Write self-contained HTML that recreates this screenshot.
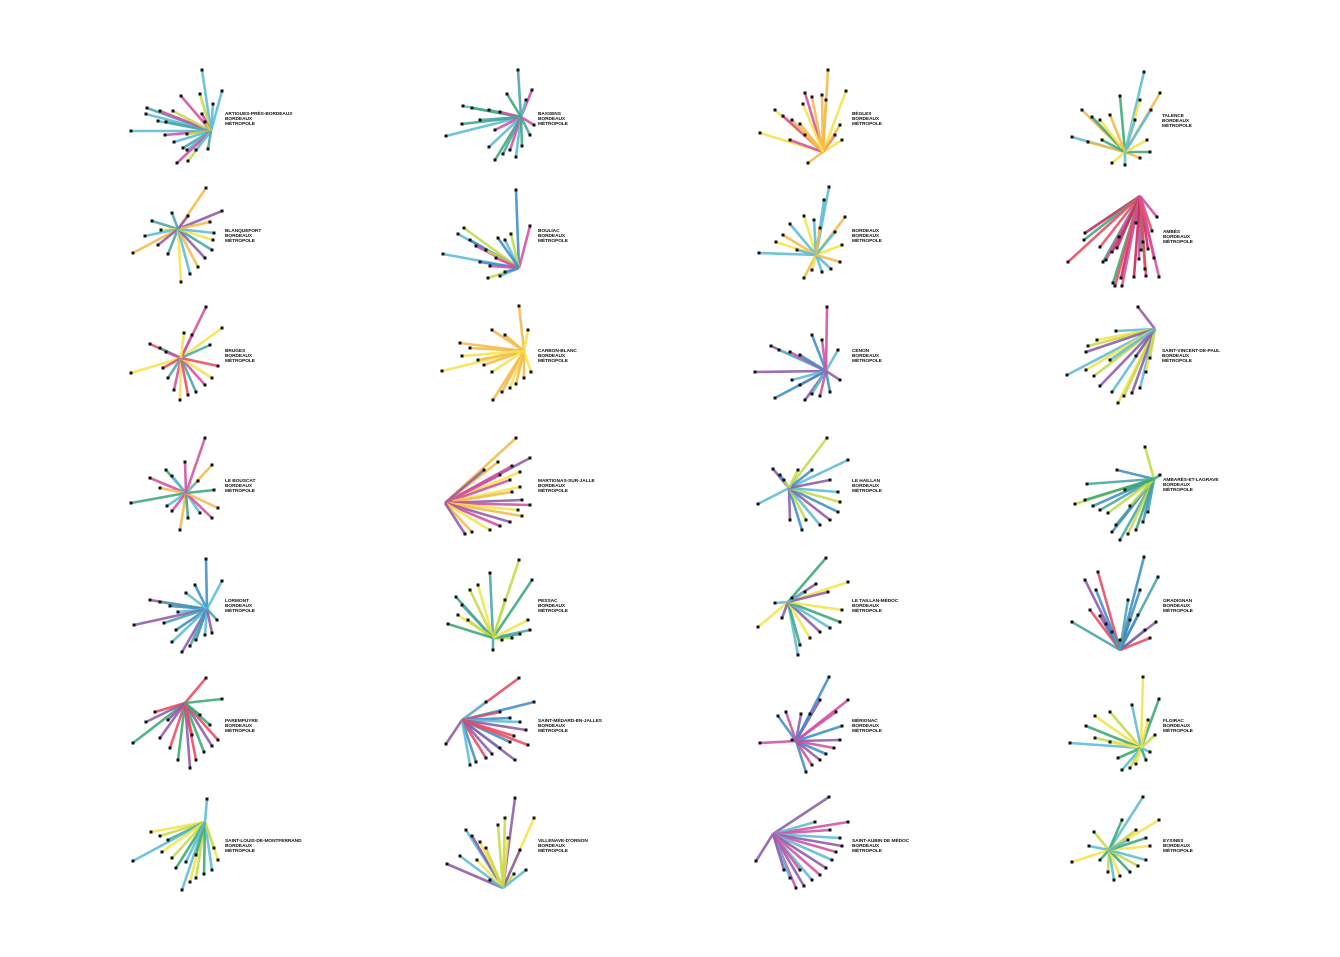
<!DOCTYPE html>
<html><head><meta charset="utf-8"><style>
html,body{margin:0;padding:0;background:#fff}
svg{display:block}
text{font-family:"Liberation Sans",sans-serif;font-size:4.8px;font-weight:bold;fill:#111;letter-spacing:-0.05px}
</style></head><body>
<svg id="c" width="1340" height="957" viewBox="0 0 1340 957"></svg>
<script>
const C={cy:'#5bbcd6',te:'#4aa5a9',ma:'#d44fa3',li:'#c5d94a',or:'#f5b94a',ye:'#f5e34a',re:'#e84a5f',gr:'#3aa876',pu:'#8e5aa8',bl:'#3d8ec9',cr:'#c8265a'};
const names=["ARTIGUES-PRÈS-BORDEAUX","BASSENS","BÈGLES","TALENCE","BLANQUEFORT","BOULIAC","BORDEAUX","AMBÈS","BRUGES","CARBON-BLANC","CENON","SAINT-VINCENT-DE-PAUL","LE BOUSCAT","MARTIGNAS-SUR-JALLE","LE HAILLAN","AMBARÈS-ET-LAGRAVE","LORMONT","PESSAC","LE TAILLAN-MÉDOC","GRADIGNAN","PAREMPUYRE","SAINT-MÉDARD-EN-JALLES","MÉRIGNAC","FLOIRAC","SAINT-LOUIS-DE-MONTFERRAND","VILLENAVE-D'ORNON","SAINT-AUBIN DE MÉDOC","EYSINES"];
const hubs=[[211,131],[521,117],[823,152],[1125,152],[178,229],[519,268],[816,255],[1140,196],[181,358],[524,351],[826,371],[1155,329],[186,493],[445,503],[789,488],[1154,479],[207,609],[493,638],[788,602],[1120,650],[185,703],[462,720],[796,741],[1141,748],[205,822],[503,888],[773,834],[1109,850]];
const labelPos=[[225,113],[538,113],[852,113],[1162,115],[225,230],[538,230],[852,230],[1163,231],[225,350],[538,350],[852,350],[1162,350],[225,480],[538,480],[852,480],[1163,479],[225,600],[538,600],[852,600],[1163,600],[225,720],[538,720],[852,720],[1163,720],[225,840],[538,840],[852,840],[1163,840]];
const palettes=[["cy","ma","li","cy","te"],["te","ma","cy","gr"],["or","ye","ma","or"],["cy","or","gr","ye"],["or","pu","te","ye","cy"],["bl","ma","li","cy"],["cy","or","ye","cy"],["ma","cr","gr","re"],["ma","ye","re","te"],["or","ye","or"],["ma","bl","pu","cy"],["pu","cy","ye","li"],["ma","or","gr","cy"],["or","pu","ma","ye"],["li","cy","pu","bl"],["li","gr","bl","te"],["bl","cy","pu","te"],["li","gr","te","ye"],["gr","ye","pu","cy"],["bl","te","re","pu"],["re","gr","pu"],["re","bl","cy","pu"],["bl","ma","pu"],["ye","gr","cy","li"],["cy","ye","li","gr"],["pu","ye","li","cy"],["pu","ma","cy"],["cy","ye","gr","li"]];
const ends=[
[[202,70],[181,96],[200,94],[222,91],[147,108],[146,114],[160,111],[173,111],[158,121],[166,122],[131,131],[165,135],[187,134],[174,142],[183,148],[187,150],[177,163],[188,161],[196,150],[208,149],[213,104],[202,114],[205,122]],
[[518,70],[532,90],[463,106],[472,108],[489,110],[500,112],[446,136],[462,124],[480,120],[495,130],[489,147],[495,160],[503,154],[510,150],[516,157],[522,146],[530,135],[534,125],[526,100],[507,94]],
[[828,70],[846,91],[805,93],[812,97],[822,95],[775,110],[783,116],[792,120],[800,124],[760,133],[790,140],[805,135],[808,163],[842,140],[835,135],[840,125],[826,100],[803,104]],
[[1144,72],[1160,93],[1120,96],[1140,100],[1151,110],[1082,110],[1092,117],[1100,120],[1072,137],[1088,142],[1102,140],[1112,163],[1125,165],[1140,158],[1150,152],[1147,140],[1135,120],[1110,115]],
[[206,188],[222,211],[152,221],[161,230],[145,236],[133,253],[158,245],[168,254],[181,282],[190,274],[198,267],[205,258],[212,250],[213,240],[214,233],[210,222],[188,216],[172,213]],
[[516,190],[530,226],[464,228],[458,234],[470,240],[476,246],[486,250],[443,254],[480,262],[490,266],[488,278],[500,276],[505,272],[496,258],[511,234],[505,240],[498,238]],
[[829,187],[845,217],[804,216],[814,220],[790,224],[783,235],[776,242],[759,253],[797,250],[804,278],[812,270],[822,272],[831,269],[840,262],[842,245],[835,232],[824,200],[820,228]],
[[1157,217],[1085,233],[1084,240],[1100,247],[1119,237],[1112,252],[1103,262],[1068,262],[1106,260],[1117,248],[1136,223],[1152,231],[1143,242],[1148,249],[1141,250],[1154,258],[1139,259],[1121,278],[1113,283],[1115,286],[1122,286],[1134,277],[1145,269],[1146,276],[1159,277]],
[[206,307],[222,328],[150,344],[160,348],[166,352],[131,373],[163,368],[168,378],[174,390],[180,400],[188,395],[196,392],[205,385],[212,378],[218,366],[210,345],[192,335],[184,333]],
[[519,306],[528,330],[460,343],[470,348],[442,371],[478,360],[484,365],[492,372],[493,400],[502,392],[510,388],[516,384],[524,378],[531,372],[505,335],[492,330],[462,356]],
[[827,307],[812,335],[771,346],[779,350],[790,352],[800,355],[755,372],[792,380],[800,385],[775,398],[805,400],[812,394],[820,396],[830,392],[840,380],[838,350],[822,340]],
[[1138,307],[1116,331],[1097,340],[1088,346],[1086,352],[1067,375],[1086,370],[1094,376],[1100,386],[1112,392],[1118,403],[1124,396],[1132,393],[1140,388],[1146,372],[1150,358],[1136,356],[1110,360]],
[[205,438],[212,465],[166,470],[172,476],[150,478],[160,488],[131,503],[167,506],[172,511],[180,530],[188,518],[200,513],[212,518],[218,508],[214,490],[198,481],[185,462]],
[[516,438],[530,458],[512,466],[520,472],[498,462],[484,470],[510,480],[520,487],[512,492],[522,500],[530,505],[518,510],[522,516],[510,522],[500,526],[490,530],[472,532],[465,534],[500,475]],
[[827,438],[848,460],[773,469],[780,475],[784,480],[758,504],[790,520],[802,530],[806,520],[820,525],[830,520],[838,512],[840,502],[838,492],[830,480],[812,470],[798,470]],
[[1145,447],[1160,475],[1117,470],[1087,484],[1075,504],[1085,500],[1093,506],[1100,510],[1108,513],[1116,525],[1112,532],[1120,540],[1128,534],[1136,530],[1143,522],[1148,512],[1130,506],[1125,490]],
[[206,559],[222,581],[150,600],[160,602],[170,606],[178,612],[134,625],[164,623],[176,630],[172,642],[182,652],[190,646],[196,640],[205,635],[212,633],[217,620],[195,585],[186,593]],
[[519,560],[532,580],[490,573],[478,585],[470,590],[456,597],[462,605],[458,615],[468,620],[448,624],[493,650],[502,640],[512,638],[520,634],[530,630],[528,620],[505,600]],
[[826,558],[848,582],[816,584],[775,603],[792,598],[758,627],[782,618],[798,655],[800,645],[810,638],[820,632],[830,628],[840,622],[842,610],[828,592],[805,592]],
[[1144,557],[1158,577],[1098,572],[1085,580],[1096,590],[1072,622],[1090,610],[1100,616],[1106,624],[1112,632],[1120,640],[1130,620],[1138,615],[1145,630],[1150,638],[1156,622],[1140,590],[1128,600]],
[[206,678],[222,699],[146,722],[155,712],[133,743],[160,738],[170,748],[178,760],[190,768],[196,760],[204,752],[212,746],[218,740],[210,725],[168,720],[192,735],[200,715]],
[[519,678],[534,702],[486,702],[446,744],[500,712],[510,718],[520,722],[526,730],[514,736],[510,742],[500,748],[492,754],[486,758],[476,762],[470,765],[515,760],[528,745]],
[[829,677],[848,700],[820,700],[778,716],[786,712],[801,714],[810,714],[760,743],[792,740],[806,772],[812,765],[820,760],[826,754],[834,748],[840,740],[842,726],[836,712]],
[[1143,677],[1159,699],[1132,705],[1110,712],[1095,716],[1086,726],[1070,743],[1095,738],[1110,742],[1118,758],[1122,770],[1130,768],[1136,764],[1146,760],[1150,752],[1155,735],[1148,720]],
[[207,799],[151,832],[160,836],[168,840],[133,861],[162,852],[172,858],[176,868],[182,890],[190,882],[196,878],[204,874],[212,870],[218,860],[214,848],[196,855],[186,862]],
[[515,798],[534,818],[498,825],[466,830],[472,836],[480,842],[486,848],[460,856],[447,864],[477,860],[514,874],[526,870],[520,850],[508,838],[505,818],[490,880]],
[[829,797],[848,822],[815,822],[756,861],[830,830],[840,838],[842,846],[836,852],[832,860],[826,868],[820,875],[812,880],[804,886],[796,888],[790,878],[784,870],[800,870]],
[[1143,797],[1159,820],[1122,820],[1094,832],[1089,846],[1072,862],[1100,860],[1108,872],[1114,880],[1120,876],[1130,872],[1138,866],[1146,860],[1150,846],[1146,838],[1136,830],[1128,840]]
];
const NS='http://www.w3.org/2000/svg';
const svg=document.getElementById('c');
function mk(t,a,p){const e=document.createElementNS(NS,t);for(const k in a)e.setAttribute(k,a[k]);p.appendChild(e);return e;}
names.forEach((nm,i)=>{
  const g=mk('g',{},svg);
  
  
  const [hx,hy]=hubs[i];const pal=palettes[i];
  ends[i].forEach((p,j)=>{
    const l=mk('line',{x1:hx,y1:hy,x2:p[0],y2:p[1],stroke:C[pal[j%pal.length]],'stroke-width':2.6,'stroke-opacity':0.88,'stroke-linecap':'butt'},g);
    
    
  });
  ends[i].forEach(p=>{
    const d=mk('rect',{x:p[0]-1.5,y:p[1]-1.5,width:3,height:3,fill:'#111'},g);
    
    
  });
  const [lx,ly]=labelPos[i];
  const t=mk('text',{x:lx,y:ly+2},g);
  
  
  [nm,'BORDEAUX','MÉTROPOLE'].forEach((s,k)=>{const ts=mk('tspan',{x:lx,dy:k?5:0},t);ts.textContent=s;});
});
</script>
</body></html>
